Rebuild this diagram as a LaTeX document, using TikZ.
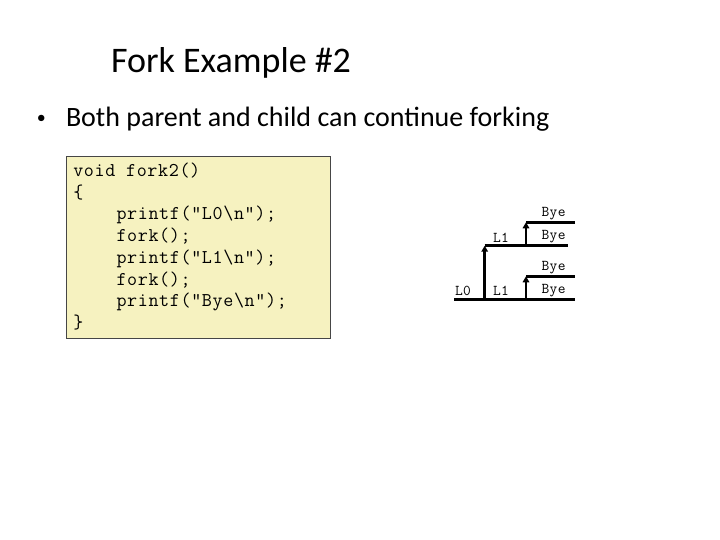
\documentclass[tikz,border=0pt]{standalone}
\usepackage{fontspec}
\setmainfont{Carlito}
\newfontfamily\codefont{Latin Modern Mono}[LetterSpace=3.3]
\usetikzlibrary{arrows.meta}
\definecolor{codebg}{RGB}{246,242,192}
\definecolor{codeborder}{RGB}{70,70,70}
\tikzset{
  txt/.style={inner sep=0pt, outer sep=0pt, anchor=base west},
  titletxt/.style={txt, font=\fontsize{36}{43}\selectfont},
  bodytxt/.style={txt, font=\fontsize{28}{34}\selectfont},
  bullettxt/.style={txt, font=\fontsize{18}{22}\selectfont},
  codetxt/.style={txt, font=\codefont\fontsize{19.5}{21.6}\selectfont},
  treetxt/.style={txt, font=\codefont\fontsize{15}{17}\selectfont},
  codebox/.style={draw=codeborder, line width=0.8pt, fill=codebg, inner sep=0pt, anchor=north west},
  proc/.style={line width=2.8pt, line cap=butt},
  forkarrow/.style={line width=2.8pt, -{Triangle[length=6pt,width=6.5pt]}}
}
\begin{document}
\begin{tikzpicture}[x=1pt,y=-1pt]
\useasboundingbox (0,0) rectangle (720,540);
\fill[white] (0,0) rectangle (720,540);

\node[titletxt] (title) at (111,73) {Fork Example \#2};
\node[bullettxt] (bullet) at (36.8,124) {•};
\node[bodytxt] (point) at (66,127) {Both parent and child can continue forking};

\node[codebox, minimum width=264pt, minimum height=182pt] (box) at (66,156) {};
\node[codetxt] (c1) at (73.3,176.7) {void fork2()};
\node[codetxt] (c2) at (73.3,198.4) {\{};
\node[codetxt] (c3) at (116.5,220.0) {printf("L0\textbackslash n");};
\node[codetxt] (c4) at (116.5,241.7) {fork();};
\node[codetxt] (c5) at (116.5,263.4) {printf("L1\textbackslash n");};
\node[codetxt] (c6) at (116.5,285.0) {fork();};
\node[codetxt] (c7) at (116.5,306.7) {printf("Bye\textbackslash n");};
\node[codetxt] (c8) at (73.3,328.4) {\}};

% process tree
\coordinate (b0) at (454,299.5);
\coordinate (b1) at (575,299.5);
\coordinate (f1) at (484.7,299.5);
\coordinate (u0) at (484.7,245.7);
\coordinate (u1) at (568.3,245.7);
\coordinate (f2) at (526,245.7);
\coordinate (t0) at (526,222.3);
\coordinate (t1) at (575,222.3);
\coordinate (f3) at (526,299.5);
\coordinate (l0) at (526,276.3);
\coordinate (l1) at (575,276.3);

\draw[proc] (b0) -- (b1);
\draw[proc] (u0) -- (u1);
\draw[proc] (t0) -- (t1);
\draw[proc] (l0) -- (l1);
\draw[forkarrow] (f1) -- (u0);
\draw[forkarrow] (f2) -- (t0);
\draw[forkarrow] (f3) -- (l0);

\node[treetxt] (lab0) at (455,295) {L0};
\node[treetxt] (lab1) at (493,295) {L1};
\node[treetxt] (lab2) at (493,242) {L1};
\node[treetxt] (bye1) at (541.5,216.5) {Bye};
\node[treetxt] (bye2) at (541.5,239.5) {Bye};
\node[treetxt] (bye3) at (541.5,270.5) {Bye};
\node[treetxt] (bye4) at (541.5,293.5) {Bye};
\end{tikzpicture}
\end{document}
